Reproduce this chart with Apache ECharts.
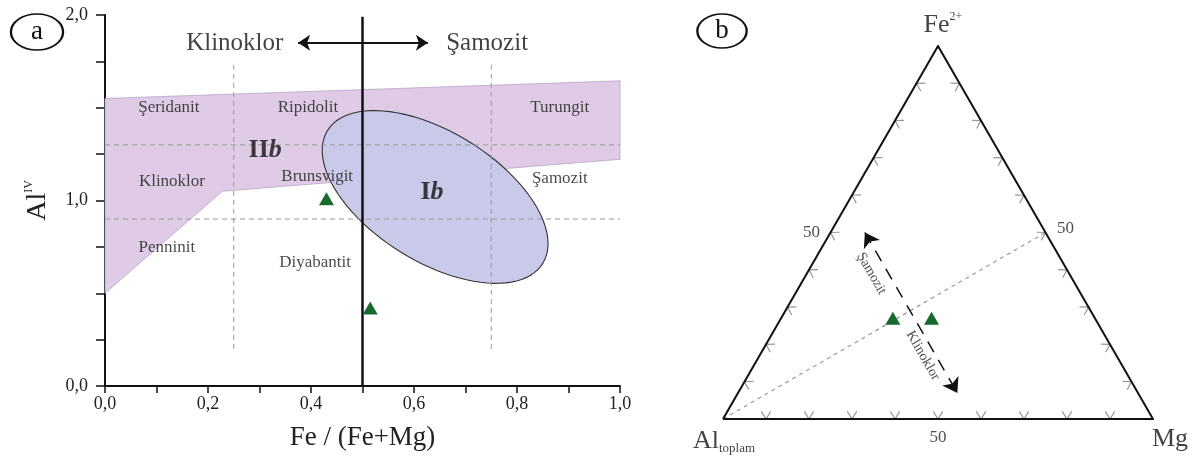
<!DOCTYPE html>
<html><head><meta charset="utf-8">
<script src="https://cdn.jsdelivr.net/npm/echarts@6/dist/echarts.min.js"></script>
<style>html,body{margin:0;padding:0;background:#fff}#c{width:1195px;height:464px}</style>
</head><body><div id="c"></div>
<script>
// ---------- DATA : panel a (Al IV vs Fe/(Fe+Mg)) ----------
const regionIIb = [[0,0.5],[0,1.55],[1.0,1.645],[1.0,1.222],[0.228,1.05]];
const ellipseIbCenter = [0.641,1.019];
const ellipseIbAxisA = [0.209,-0.358];
const ellipseIbAxisB = [0.0662,0.298];
const guideLinesA = [[[0.25,0.2],[0.25,1.75]],[[0.75,0.2],[0.75,1.75]],[[0,1.3],[1,1.3]],[[0,0.9],[1,0.9]]];
const boundaryA = [[0.5,0],[0.5,1.99]];
const arrowA = [[0.375,1.85],[0.627,1.85]];
const regionLabels = [
  ['Şeridanit',0.124,1.499],['Ripidolit',0.394,1.499],['Turungit',0.883,1.499],
  ['Klinoklor',0.130,1.100],['Brunsvigit',0.412,1.127],['Şamozit',0.883,1.116],
  ['Penninit',0.120,0.744],['Diyabantit',0.408,0.668]
];
const groupLabels = [['II','b',0.311,1.272],['I','b',0.635,1.046]];
const trendLabels = [['Klinoklor',0.252,1.849],['Şamozit',0.742,1.849]];
const samplesA = [[0.43,1.01],[0.515,0.42]];
// ---------- DATA : panel b (ternary Fe2+ - Mg - Al total), [Fe, Mg, Al] ----------
const samplesB = [[27,26,47],[27,35,38]];
const edgeTicks = [10,20,30,40,50,60,70,80,90];
const guideB = [[0,0,100],[50,50,0]];
const trendArrowB = [[50,8,42],[7,51,42]];
const trendTextB = [['Şamozit',39,15,46],['Klinoklor',17,38,45]];

// ---------- helpers ----------
const H = Math.sqrt(3)/2;
function tern(fe,mg,al){const s=fe+mg+al;return [(mg+fe/2)/s,fe/s*H];}
const fmt = v => v.toFixed(1).replace('.',',');
const SERIF = 'Liberation Serif';
const ellipsePts = [];
for(let i=0;i<96;i++){const t=i/96*2*Math.PI;ellipsePts.push([ellipseIbCenter[0]+Math.cos(t)*ellipseIbAxisA[0]+Math.sin(t)*ellipseIbAxisB[0],ellipseIbCenter[1]+Math.cos(t)*ellipseIbAxisA[1]+Math.sin(t)*ellipseIbAxisB[1]]);}

const tickData = [];
edgeTicks.forEach(p=>{
  tickData.push([...tern(0,p,100-p),0]);
  tickData.push([...tern(p,0,100-p),1]);
  tickData.push([...tern(p,100-p,0),2]);
});
const normals=[-Math.PI/2,Math.PI/6,5*Math.PI/6];

const chart = echarts.init(document.getElementById('c'));
chart.setOption({
  animation:false,
  textStyle:{fontFamily:SERIF,color:'#222'},
  grid:[
    {left:105,width:515,top:15,height:371},
    {left:723,width:430,top:46,height:373}
  ],
  xAxis:[
    {gridIndex:0,type:'value',min:0,max:1,interval:0.1,
     axisLine:{lineStyle:{color:'#111',width:2}},
     axisTick:{length:7,lineStyle:{color:'#111',width:1.5}},
     axisLabel:{fontFamily:SERIF,fontSize:18,color:'#222',margin:9,
       formatter:v=>Math.round(v*10)%2===0?fmt(v):''},
     splitLine:{show:false},
     name:'Fe / (Fe+Mg)',nameLocation:'middle',nameGap:38,
     nameTextStyle:{fontFamily:SERIF,fontSize:27,color:'#222'}},
    {gridIndex:1,type:'value',min:0,max:1,show:false}
  ],
  yAxis:[
    {gridIndex:0,type:'value',min:0,max:2,interval:0.25,
     axisLine:{show:true,lineStyle:{color:'#111',width:2}},
     axisTick:{show:true,length:9,lineStyle:{color:'#111',width:1.5}},
     axisLabel:{fontFamily:SERIF,fontSize:18,color:'#222',margin:17,
       formatter:v=>Math.abs(v-Math.round(v))<1e-9?fmt(v):''},
     splitLine:{show:false},
     name:'{a|Al}{s|IV}',nameLocation:'middle',nameGap:52,nameRotate:90,
     nameTextStyle:{rich:{a:{fontFamily:SERIF,fontSize:28,color:'#222',lineHeight:30},s:{fontFamily:SERIF,fontSize:12,color:'#222',verticalAlign:'top',lineHeight:30}}}},
    {gridIndex:1,type:'value',min:0,max:H,show:false}
  ],
  graphic:[
    {type:'circle',x:37,y:32,scaleX:1.45,shape:{cx:0,cy:0,r:18},style:{fill:'none',stroke:'#111',lineWidth:1.6}},
    {type:'text',x:37,y:32,style:{text:'a',font:'27px "Liberation Serif"',fill:'#111',align:'center',verticalAlign:'middle'}},
    {type:'circle',x:722,y:31,scaleX:1.45,shape:{cx:0,cy:0,r:17},style:{fill:'none',stroke:'#111',lineWidth:1.6}},
    {type:'text',x:722,y:31,style:{text:'b',font:'27px "Liberation Serif"',fill:'#111',align:'center',verticalAlign:'middle'}}
  ],
  series:[
    {type:'custom',xAxisIndex:0,yAxisIndex:0,silent:true,z:1,data:[[0,0]],
     renderItem:(p,api)=>({type:'polygon',shape:{points:regionIIb.map(pt=>api.coord(pt))},style:{fill:'#dfcbe5',stroke:'#b9a3c8',lineWidth:0.8}})},
    {type:'custom',xAxisIndex:0,yAxisIndex:0,silent:true,z:2,data:[[0,0]],
     renderItem:(p,api)=>({type:'polygon',shape:{points:ellipsePts.map(pt=>api.coord(pt))},style:{fill:'#c9cae9',stroke:'#333',lineWidth:1.1}})},
    {type:'lines',coordinateSystem:'cartesian2d',xAxisIndex:0,yAxisIndex:0,polyline:true,silent:true,z:3,
     lineStyle:{color:'#999',width:1,type:[5,4],opacity:1},
     data:guideLinesA.map(c=>({coords:c}))},
    {type:'lines',coordinateSystem:'cartesian2d',xAxisIndex:0,yAxisIndex:0,polyline:true,silent:true,z:4,
     lineStyle:{color:'#111',width:2.5,opacity:1},data:[{coords:boundaryA}]},
    {type:'lines',coordinateSystem:'cartesian2d',xAxisIndex:0,yAxisIndex:0,silent:true,z:4,
     symbol:['arrow','arrow'],symbolSize:12,
     lineStyle:{color:'#111',width:2,opacity:1},data:[{coords:arrowA}]},
    {type:'scatter',xAxisIndex:0,yAxisIndex:0,symbolSize:0,silent:true,z:5,
     label:{show:true,position:'inside',formatter:'{b}',fontFamily:SERIF,fontSize:17,color:'#1a1a1a'},
     data:regionLabels.map(d=>({name:d[0],value:[d[1],d[2]]}))},
    {type:'scatter',xAxisIndex:0,yAxisIndex:0,symbolSize:0,silent:true,z:5,
     label:{show:true,position:'inside',formatter:p=>'{r|'+p.data.t1+'}{i|'+p.data.t2+'}',
       rich:{r:{fontFamily:SERIF,fontSize:26,fontWeight:'bold',color:'#111'},i:{fontFamily:SERIF,fontSize:26,fontWeight:'bold',fontStyle:'italic',color:'#111'}}},
     data:groupLabels.map(d=>({t1:d[0],t2:d[1],value:[d[2],d[3]]}))},
    {type:'scatter',xAxisIndex:0,yAxisIndex:0,symbolSize:0,silent:true,z:5,
     label:{show:true,position:'inside',formatter:'{b}',fontFamily:SERIF,fontSize:25,color:'#111'},
     data:trendLabels.map(d=>({name:d[0],value:[d[1],d[2]]}))},
    {type:'scatter',xAxisIndex:0,yAxisIndex:0,symbol:'triangle',symbolSize:[15,13],z:6,
     itemStyle:{color:'#176b2e',opacity:1},data:samplesA},

    // ---------- panel b ----------
    {type:'lines',coordinateSystem:'cartesian2d',xAxisIndex:1,yAxisIndex:1,polyline:true,silent:true,z:3,
     lineStyle:{color:'#999',width:1.2,type:[4,4],opacity:1},
     data:[{coords:guideB.map(t=>tern(...t))}]},
    {type:'custom',xAxisIndex:1,yAxisIndex:1,silent:true,z:3,data:tickData,
     renderItem:(p,api)=>{const c=api.coord([api.value(0),api.value(1)]);const a=normals[api.value(2)];const L=9,d=0.55;
       return {type:'polyline',shape:{points:[[c[0]+L*Math.cos(a-d),c[1]+L*Math.sin(a-d)],c,[c[0]+L*Math.cos(a+d),c[1]+L*Math.sin(a+d)]]},style:{stroke:'#999',lineWidth:1.2,fill:null}};}},
    {type:'lines',coordinateSystem:'cartesian2d',xAxisIndex:1,yAxisIndex:1,polyline:true,silent:true,z:4,
     lineStyle:{color:'#111',width:2,opacity:1},
     data:[{coords:[tern(0,0,100),tern(0,100,0),tern(100,0,0),tern(0,0,100)]}]},
    {type:'lines',coordinateSystem:'cartesian2d',xAxisIndex:1,yAxisIndex:1,silent:true,z:4,
     symbol:['arrow','arrow'],symbolSize:14,
     lineStyle:{color:'#111',width:1.5,type:[12,9],opacity:1},
     data:[{coords:trendArrowB.map(t=>tern(...t))}]},
    {type:'scatter',xAxisIndex:1,yAxisIndex:1,symbolSize:0,silent:true,z:5,
     label:{show:true,position:'inside',formatter:'{b}',rotate:-60,fontFamily:SERIF,fontSize:14,color:'#222'},
     data:trendTextB.map(d=>({name:d[0],value:tern(d[1],d[2],d[3])}))},
    {type:'scatter',xAxisIndex:1,yAxisIndex:1,symbolSize:0,silent:true,z:5,
     label:{show:true,position:'inside',formatter:'{b}',fontFamily:SERIF,fontSize:17,color:'#222'},
     data:[
       {name:'50',value:tern(50,0,50),label:{offset:[-19,0]}},
       {name:'50',value:tern(50,50,0),label:{offset:[20,-4]}},
       {name:'50',value:tern(0,50,50),label:{offset:[0,19]}}
     ]},
    {type:'scatter',xAxisIndex:1,yAxisIndex:1,symbolSize:0,silent:true,z:5,
     label:{show:true,position:'inside',formatter:p=>p.data.txt,
       rich:{m:{fontFamily:SERIF,fontSize:26,color:'#111',lineHeight:28},
             sup:{fontFamily:SERIF,fontSize:12,color:'#111',verticalAlign:'top',lineHeight:28},
             sub:{fontFamily:SERIF,fontSize:13,color:'#111',verticalAlign:'bottom',lineHeight:28,padding:[10,0,0,0]}}},
     data:[
       {txt:'{m|Fe}{sup|2+}',value:tern(100,0,0),label:{offset:[5,-21]}},
       {txt:'{m|Al}{sub|toplam}',value:tern(0,0,100),label:{offset:[1,22]}},
       {txt:'{m|Mg}',value:tern(0,100,0),label:{offset:[17,20]}}
     ]},
    {type:'scatter',xAxisIndex:1,yAxisIndex:1,symbol:'triangle',symbolSize:[15,13],z:6,
     itemStyle:{color:'#176b2e',opacity:1},data:samplesB.map(t=>tern(...t))}
  ]
});
</script></body></html>
